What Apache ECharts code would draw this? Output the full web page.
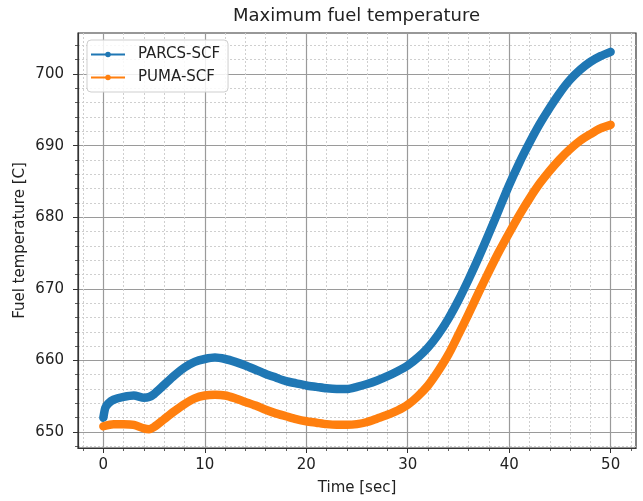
<!DOCTYPE html>
<html><head><meta charset="utf-8">
<script src="https://cdn.jsdelivr.net/npm/echarts@6/dist/echarts.min.js"></script>
<style>html,body{margin:0;padding:0;background:#fff}#c{width:643px;height:501px}</style>
</head><body><div id="c"></div>
<script>
const titleText = 'Maximum fuel temperature';
const xName = 'Time [sec]';
const yName = 'Fuel temperature [C]';
const seriesNames = ['PARCS-SCF', 'PUMA-SCF'];
const xTicks = [0, 10, 20, 30, 40, 50];
const yTicks = [650, 660, 670, 680, 690, 700];

const parcsTime = [0,0.2,0.5,1,2,3,4,4.5,5,6,7,8,9,10,11,12,13,14,15,16,17,18,19,20,21,22,23,24,25,26,27,28,29,30,31,32,33,34,35,36,37,38,39,40,41,42,43,44,45,46,47,48,49,50];
const parcsTemp = [652.0,653.4,654.0,654.5,654.9,655.1,654.8,654.9,655.3,656.6,657.9,659.0,659.8,660.2,660.4,660.2,659.8,659.3,658.7,658.1,657.6,657.1,656.8,656.5,656.3,656.1,656.0,656.0,656.3,656.7,657.2,657.8,658.5,659.3,660.4,661.8,663.6,665.8,668.4,671.3,674.4,677.7,681.1,684.5,687.6,690.4,693.0,695.3,697.4,699.2,700.6,701.7,702.5,703.1];

const pumaTime = [0,1,2,3,4,4.5,5,6,7,8,9,10,11,12,13,14,15,16,17,18,19,20,21,22,23,24,25,26,27,28,29,30,31,32,33,34,35,36,37,38,39,40,41,42,43,44,45,46,47,48,49,50];
const pumaTemp = [650.8,651.1,651.1,651.0,650.5,650.4,650.7,651.8,652.9,653.9,654.7,655.1,655.2,655.1,654.7,654.2,653.7,653.1,652.6,652.2,651.8,651.5,651.3,651.1,651.0,651.0,651.1,651.4,651.9,652.4,653.0,653.8,655.0,656.5,658.5,660.8,663.6,666.5,669.5,672.4,675.2,677.8,680.3,682.6,684.7,686.5,688.1,689.5,690.7,691.6,692.4,692.9];

const colors = ['#1f77b4', '#ff7f0e'];
const font = 'DejaVu Sans';
const txt = '#222';

function pairs(xs, ys) { return xs.map((x, i) => [x, ys[i]]); }
// matplotlib-style 5% margins
const allX = parcsTime.concat(pumaTime), allY = parcsTemp.concat(pumaTemp);
const xLo = Math.min(...allX), xHi = Math.max(...allX), yLo = Math.min(...allY), yHi = Math.max(...allY);
const xPad = (xHi - xLo) * 0.05, yPad = (yHi - yLo) * 0.05;

const legendIcon = 'path://M0,2.1L34,2.1L34,3.9L0,3.9Z M14.2,3A2.8,2.8,0,1,1,19.8,3A2.8,2.8,0,1,1,14.2,3Z';

const chart = echarts.init(document.getElementById('c'), null, {renderer: 'canvas'});
chart.setOption({
  animation: false,
  backgroundColor: '#fff',
  textStyle: {fontFamily: font},
  title: {
    text: titleText, left: 233, top: 7, padding: 0,
    textStyle: {fontFamily: font, fontSize: 18, fontWeight: 'normal', color: txt}
  },
  grid: {left: 78, top: 33, right: 7, bottom: 49, show: true, borderColor: '#333', borderWidth: 1.2, backgroundColor: 'transparent', containLabel: false},
  legend: {
    left: 87, top: 40, orient: 'vertical',
    data: seriesNames.map(n => ({name: n, icon: legendIcon})),
    itemWidth: 34, itemHeight: 6, itemGap: 6,
    padding: [6, 8, 6, 4],
    backgroundColor: 'rgba(255,255,255,0.85)', borderColor: '#cfcfcf', borderWidth: 1, borderRadius: 4,
    textStyle: {fontFamily: font, fontSize: 15, color: txt, lineHeight: 17, padding: [0, 0, 0, 8]},
    itemStyle: {borderWidth: 0}
  },
  xAxis: {
    type: 'value', min: xLo - xPad, max: xHi + xPad,
    name: xName, nameLocation: 'middle', nameGap: 33,
    nameTextStyle: {fontFamily: font, fontSize: 15, color: txt},
    axisLine: {show: true, onZero: false, lineStyle: {color: '#333', width: 1.2}},
    axisTick: {show: true, inside: false, length: 5, customValues: xTicks, lineStyle: {color: '#333', width: 1}},
    minorTick: {show: true, splitNumber: 5, length: 3, lineStyle: {color: '#333', width: 0.8}},
    axisLabel: {customValues: xTicks, margin: 10, fontFamily: font, fontSize: 15, color: txt},
    splitLine: {show: true, lineStyle: {color: '#9a9a9a', width: 1.2}},
    minorSplitLine: {show: true, lineStyle: {color: '#cfcfcf', width: 1, type: [2, 2]}}
  },
  yAxis: {
    type: 'value', min: yLo - yPad, max: yHi + yPad,
    name: yName, nameLocation: 'middle', nameGap: 50, nameRotate: 90, nameMoveOverlap: false,
    nameTextStyle: {fontFamily: font, fontSize: 15, color: txt},
    axisLine: {show: true, onZero: false, lineStyle: {color: '#333', width: 1.2}},
    axisTick: {show: true, inside: false, length: 5, customValues: yTicks, lineStyle: {color: '#333', width: 1}},
    minorTick: {show: true, splitNumber: 5, length: 3, lineStyle: {color: '#333', width: 0.8}},
    axisLabel: {customValues: yTicks, margin: 14, fontFamily: font, fontSize: 15, color: txt},
    splitLine: {show: true, lineStyle: {color: '#9a9a9a', width: 1.2}},
    minorSplitLine: {show: true, lineStyle: {color: '#cfcfcf', width: 1, type: [2, 2]}}
  },
  series: [
    {name: seriesNames[0], type: 'line', data: pairs(parcsTime, parcsTemp), smooth: 0.25, showSymbol: false,
     lineStyle: {color: colors[0], width: 8.5, cap: 'round', join: 'round'}, itemStyle: {color: colors[0]}, z: 3},
    {name: seriesNames[1], type: 'line', data: pairs(pumaTime, pumaTemp), smooth: 0.25, showSymbol: false,
     lineStyle: {color: colors[1], width: 8.5, cap: 'round', join: 'round'}, itemStyle: {color: colors[1]}, z: 3}
  ]
});
</script></body></html>
